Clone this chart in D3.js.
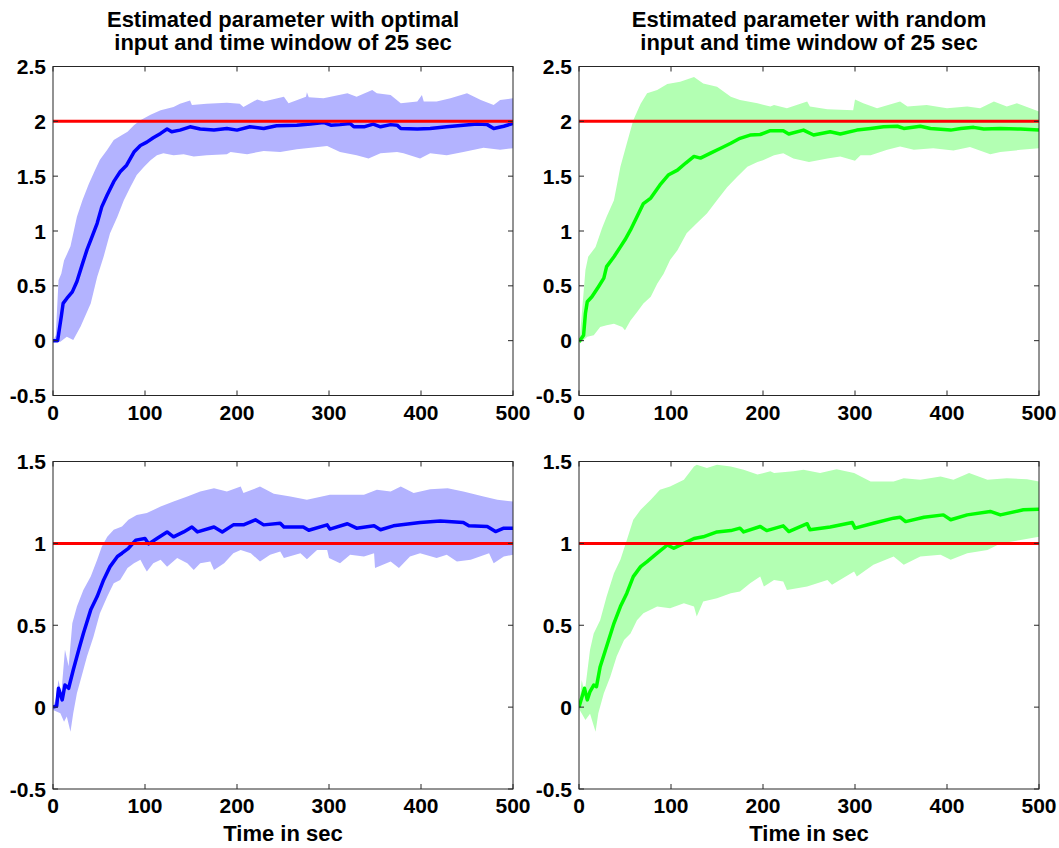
<!DOCTYPE html>
<html>
<head>
<meta charset="utf-8">
<script src="https://cdn.jsdelivr.net/npm/d3@7"></script>
<style>
  body { margin: 0; background: #fff; }
  svg { display: block; font-family: "Liberation Sans", Arial, sans-serif; font-weight: bold; }
</style>
</head>
<body>
<div id="chart"></div>
<script>
// values, [time in sec, estimate]
const timeTicks = [0, 100, 200, 300, 400, 500];
const topTicks = [-0.5, 0, 0.5, 1, 1.5, 2, 2.5];
const bottomTicks = [-0.5, 0, 0.5, 1, 1.5];

const optTopMean = [[0,0],[5,0.0],[9,0.22],[11,0.34],[15,0.385],[21,0.445],[26,0.54],[32,0.70],[37,0.83],[43,0.96],[48,1.07],[53,1.22],[59,1.33],[66,1.45],[73,1.54],[80,1.60],[88,1.72],[95,1.78],[102,1.81],[109,1.85],[117,1.89],[124,1.93],[129,1.905],[138,1.92],[149,1.95],[160,1.93],[175,1.92],[189,1.935],[200,1.92],[214,1.95],[229,1.935],[243,1.96],[265,1.965],[280,1.975],[294,1.99],[302,1.965],[312,1.97],[323,1.98],[327,1.95],[338,1.95],[348,1.975],[356,1.95],[367,1.97],[374,1.965],[378,1.935],[396,1.93],[410,1.935],[428,1.95],[446,1.965],[461,1.975],[472,1.97],[479,1.935],[490,1.955],[500,1.98]];
const optTopUpper = [[0,0],[3,0.05],[6,0.55],[9,0.61],[12,0.73],[19,0.86],[26,1.13],[32,1.28],[39,1.43],[46,1.56],[51,1.65],[59,1.74],[66,1.83],[75,1.875],[81,1.905],[88,1.965],[95,2.01],[106,2.06],[117,2.10],[131,2.13],[138,2.16],[149,2.19],[151,2.15],[167,2.16],[189,2.17],[203,2.16],[207,2.13],[222,2.20],[229,2.18],[251,2.225],[256,2.165],[275,2.225],[276,2.265],[278,2.22],[294,2.21],[320,2.255],[330,2.225],[347,2.285],[352,2.255],[367,2.24],[378,2.165],[396,2.18],[401,2.24],[403,2.18],[417,2.18],[432,2.21],[450,2.255],[465,2.195],[479,2.15],[486,2.195],[500,2.21]];
const optTopLower = [[0,0],[8,-0.01],[15,0.035],[22,0.005],[30,0.13],[41,0.34],[48,0.58],[55,0.765],[62,0.98],[70,1.13],[77,1.28],[84,1.40],[91,1.51],[99,1.585],[106,1.645],[113,1.69],[120,1.71],[131,1.69],[142,1.70],[153,1.68],[167,1.69],[189,1.70],[193,1.72],[211,1.70],[229,1.73],[247,1.72],[265,1.745],[298,1.775],[312,1.72],[330,1.69],[343,1.66],[356,1.71],[374,1.72],[381,1.71],[399,1.66],[410,1.71],[428,1.69],[446,1.72],[468,1.76],[486,1.74],[500,1.755]];

const rndTopMean = [[0,-0.01],[5,0.05],[7,0.25],[9,0.355],[14,0.40],[21,0.49],[27,0.57],[30,0.675],[38,0.765],[45,0.855],[50,0.92],[56,1.01],[63,1.13],[70,1.25],[78,1.30],[88,1.42],[97,1.51],[107,1.555],[116,1.62],[125,1.68],[132,1.665],[143,1.71],[154,1.755],[165,1.80],[175,1.845],[186,1.875],[197,1.88],[208,1.915],[222,1.915],[228,1.885],[244,1.92],[255,1.875],[273,1.905],[284,1.885],[302,1.92],[317,1.935],[331,1.95],[346,1.955],[353,1.935],[371,1.955],[382,1.935],[404,1.92],[415,1.935],[429,1.945],[440,1.93],[458,1.935],[480,1.93],[500,1.92]];
const rndTopUpper = [[0,0],[1,0.035],[7,0.645],[10,0.765],[18,0.855],[25,1.025],[30,1.13],[38,1.28],[45,1.585],[52,1.80],[59,2.01],[67,2.16],[74,2.255],[85,2.285],[96,2.34],[110,2.36],[125,2.405],[135,2.345],[150,2.315],[165,2.225],[175,2.195],[194,2.165],[208,2.135],[212,2.15],[226,2.12],[248,2.18],[251,2.135],[270,2.11],[298,2.10],[300,2.20],[309,2.165],[324,2.12],[349,2.18],[357,2.135],[378,2.15],[400,2.12],[422,2.135],[436,2.12],[451,2.18],[465,2.135],[476,2.165],[500,2.09]];
const rndTopLower = [[0,-0.01],[1,-0.025],[9,0.035],[16,0.05],[23,0.125],[30,0.14],[38,0.155],[47,0.125],[50,0.095],[56,0.185],[63,0.26],[70,0.34],[78,0.40],[85,0.52],[92,0.61],[99,0.735],[107,0.825],[117,0.98],[128,1.07],[139,1.16],[150,1.28],[161,1.40],[172,1.495],[183,1.585],[194,1.63],[200,1.645],[212,1.69],[222,1.71],[233,1.66],[250,1.63],[270,1.66],[284,1.68],[300,1.64],[306,1.69],[317,1.69],[335,1.74],[349,1.77],[364,1.74],[385,1.755],[407,1.735],[425,1.765],[447,1.70],[458,1.72],[480,1.74],[500,1.755]];

const optBotMean = [[0,0],[4,0.007],[6,0.115],[10,0.044],[13,0.135],[17,0.115],[22,0.227],[28,0.35],[33,0.45],[41,0.594],[48,0.675],[55,0.777],[62,0.858],[70,0.92],[75,0.94],[82,0.97],[90,1.02],[100,1.03],[104,0.997],[113,1.03],[124,1.07],[131,1.04],[142,1.07],[151,1.10],[157,1.07],[175,1.10],[184,1.07],[196,1.113],[207,1.113],[220,1.144],[229,1.113],[247,1.123],[251,1.10],[272,1.10],[278,1.08],[298,1.113],[301,1.087],[320,1.12],[330,1.093],[349,1.107],[356,1.083],[370,1.107],[399,1.127],[421,1.137],[446,1.127],[452,1.107],[472,1.103],[481,1.072],[490,1.093],[500,1.093]];
const optBotUpper = [[0,0],[3,0.05],[6,0.166],[9,0.08],[13,0.35],[17,0.25],[21,0.512],[26,0.614],[33,0.716],[41,0.797],[48,0.90],[53,0.98],[59,1.04],[66,1.083],[75,1.103],[82,1.144],[91,1.174],[102,1.185],[117,1.225],[131,1.256],[146,1.286],[160,1.317],[175,1.337],[189,1.317],[204,1.347],[207,1.307],[225,1.347],[240,1.303],[258,1.286],[276,1.266],[301,1.297],[323,1.297],[338,1.297],[352,1.327],[367,1.317],[378,1.347],[392,1.307],[410,1.331],[429,1.337],[446,1.317],[468,1.286],[483,1.266],[500,1.256]];
const optBotLower = [[0,-0.017],[8,-0.037],[12,-0.089],[15,-0.058],[19,-0.15],[22,-0.037],[26,0.085],[32,0.207],[37,0.31],[44,0.43],[51,0.573],[59,0.675],[66,0.757],[73,0.777],[81,0.849],[88,0.879],[95,0.90],[99,0.858],[102,0.828],[109,0.879],[117,0.90],[124,0.858],[135,0.91],[146,0.879],[153,0.838],[160,0.879],[171,0.889],[175,0.838],[186,0.879],[196,0.94],[204,0.96],[215,0.94],[225,0.889],[236,0.93],[247,0.95],[251,0.91],[269,0.94],[276,0.903],[287,0.96],[298,0.96],[300,0.91],[312,0.879],[323,0.93],[338,0.92],[349,0.94],[350,0.849],[367,0.889],[376,0.849],[388,0.92],[399,0.94],[417,0.91],[428,0.93],[439,0.889],[454,0.90],[474,0.94],[479,0.879],[490,0.92],[500,0.93]];

const rndBotMean = [[0,0],[6,0.115],[9,0.044],[12,0.095],[16,0.135],[19,0.125],[23,0.247],[30,0.37],[38,0.512],[45,0.614],[52,0.696],[59,0.797],[67,0.858],[74,0.889],[85,0.94],[96,0.99],[103,0.97],[114,1.0],[125,1.03],[135,1.04],[150,1.07],[165,1.078],[175,1.093],[179,1.07],[197,1.103],[204,1.078],[222,1.107],[228,1.072],[248,1.12],[251,1.083],[273,1.10],[297,1.127],[300,1.093],[320,1.123],[342,1.154],[349,1.16],[355,1.133],[375,1.16],[396,1.174],[404,1.144],[422,1.174],[447,1.195],[458,1.174],[483,1.205],[500,1.209]];
const rndBotUpper = [[0,0],[3,0.166],[6,0.08],[12,0.35],[16,0.45],[23,0.53],[30,0.675],[38,0.818],[45,0.90],[52,1.02],[59,1.144],[67,1.205],[78,1.266],[88,1.327],[99,1.347],[114,1.388],[125,1.47],[128,1.48],[139,1.46],[150,1.48],[165,1.47],[179,1.45],[194,1.42],[208,1.44],[212,1.43],[233,1.44],[244,1.45],[262,1.43],[280,1.453],[299,1.43],[317,1.378],[342,1.378],[353,1.398],[371,1.388],[393,1.408],[407,1.388],[424,1.43],[444,1.388],[465,1.398],[487,1.392],[500,1.378]];
const rndBotLower = [[0,-0.01],[7,-0.078],[12,-0.04],[18,-0.15],[21,-0.037],[27,0.085],[34,0.186],[41,0.31],[49,0.41],[56,0.45],[63,0.53],[70,0.573],[85,0.614],[99,0.604],[114,0.634],[125,0.614],[128,0.553],[135,0.645],[150,0.665],[165,0.696],[175,0.706],[186,0.757],[197,0.797],[201,0.736],[212,0.777],[222,0.767],[226,0.716],[248,0.736],[270,0.777],[275,0.747],[299,0.828],[302,0.797],[320,0.869],[342,0.92],[353,0.869],[371,0.92],[393,0.93],[404,0.90],[422,0.94],[444,0.96],[458,1.0],[480,1.02],[500,1.04]];

const width = 1059, height = 848;

const panels = [
  { left: 53, top: 66.5, bottom: 395.5, yDomain: [-0.5, 2.5], yTicks: topTicks, truth: 2,
    mean: optTopMean, upper: optTopUpper, lower: optTopLower, line: "#0000ff", fill: "#b3b3ff",
    title: ["Estimated parameter with optimal", "input and time window of 25 sec"] },
  { left: 579, top: 66.5, bottom: 395.5, yDomain: [-0.5, 2.5], yTicks: topTicks, truth: 2,
    mean: rndTopMean, upper: rndTopUpper, lower: rndTopLower, line: "#00ff00", fill: "#b3ffb3",
    title: ["Estimated parameter with random", "input and time window of 25 sec"] },
  { left: 53, top: 461.5, bottom: 789, yDomain: [-0.5, 1.5], yTicks: bottomTicks, truth: 1,
    mean: optBotMean, upper: optBotUpper, lower: optBotLower, line: "#0000ff", fill: "#b3b3ff",
    xlabel: "Time in sec" },
  { left: 579, top: 461.5, bottom: 789, yDomain: [-0.5, 1.5], yTicks: bottomTicks, truth: 1,
    mean: rndBotMean, upper: rndBotUpper, lower: rndBotLower, line: "#00ff00", fill: "#b3ffb3",
    xlabel: "Time in sec" }
];
const plotW = 460;

const svg = d3.select("#chart").append("svg")
    .attr("width", width)
    .attr("height", height)
    .attr("viewBox", [0, 0, width, height]);

panels.forEach((p, k) => {
  const x = d3.scaleLinear().domain([0, 500]).range([p.left, p.left + plotW]);
  const y = d3.scaleLinear().domain(p.yDomain).range([p.bottom, p.top]);
  const g = svg.append("g");

  g.append("clipPath").attr("id", `clip-${k}`)
    .append("rect")
      .attr("x", p.left).attr("y", p.top)
      .attr("width", plotW).attr("height", p.bottom - p.top);

  const line = d3.line().x(d => x(d[0])).y(d => y(d[1]));
  const plot = g.append("g").attr("clip-path", `url(#clip-${k})`);

  // confidence band: upper edge forward, lower edge back
  plot.append("path")
      .attr("d", line(p.upper.concat(p.lower.slice().reverse())) + "Z")
      .attr("fill", p.fill)
      .attr("stroke", "none");

  plot.append("path")
      .attr("d", line(p.mean))
      .attr("fill", "none")
      .attr("stroke", p.line)
      .attr("stroke-width", 3.5)
      .attr("stroke-linejoin", "round");

  plot.append("path")
      .attr("d", line([[0, p.truth], [500, p.truth]]))
      .attr("stroke", "#ff0000")
      .attr("stroke-width", 3);

  // box with inward ticks on all four sides
  const axisCol = "#262626";
  g.append("rect")
      .attr("x", p.left).attr("y", p.top)
      .attr("width", plotW).attr("height", p.bottom - p.top)
      .attr("fill", "none").attr("stroke", axisCol).attr("stroke-width", 1);

  const tk = 5;
  g.selectAll(".xt").data(timeTicks).join("path")
      .attr("d", d => `M${x(d)},${p.bottom}v${-tk}M${x(d)},${p.top}v${tk}`)
      .attr("stroke", axisCol);
  g.selectAll(".yt").data(p.yTicks).join("path")
      .attr("d", d => `M${p.left},${y(d)}h${tk}M${p.left + plotW},${y(d)}h${-tk}`)
      .attr("stroke", axisCol);

  g.selectAll(".xl").data(timeTicks).join("text")
      .attr("x", d => x(d))
      .attr("y", p.bottom + 24)
      .attr("text-anchor", "middle")
      .attr("font-size", 21)
      .text(d => d);
  g.selectAll(".yl").data(p.yTicks).join("text")
      .attr("x", p.left - 7)
      .attr("y", d => y(d))
      .attr("dy", "0.36em")
      .attr("text-anchor", "end")
      .attr("font-size", 21)
      .text(d => d);

  if (p.title) {
    g.selectAll(".tt").data(p.title).join("text")
        .attr("x", p.left + plotW / 2)
        .attr("y", (d, i) => 27 + i * 23)
        .attr("text-anchor", "middle")
        .attr("font-size", 22)
        .text(d => d);
  }
  if (p.xlabel) {
    g.append("text")
        .attr("x", p.left + plotW / 2)
        .attr("y", 841)
        .attr("text-anchor", "middle")
        .attr("font-size", 22)
        .text(p.xlabel);
  }
});
</script>
</body>
</html>
